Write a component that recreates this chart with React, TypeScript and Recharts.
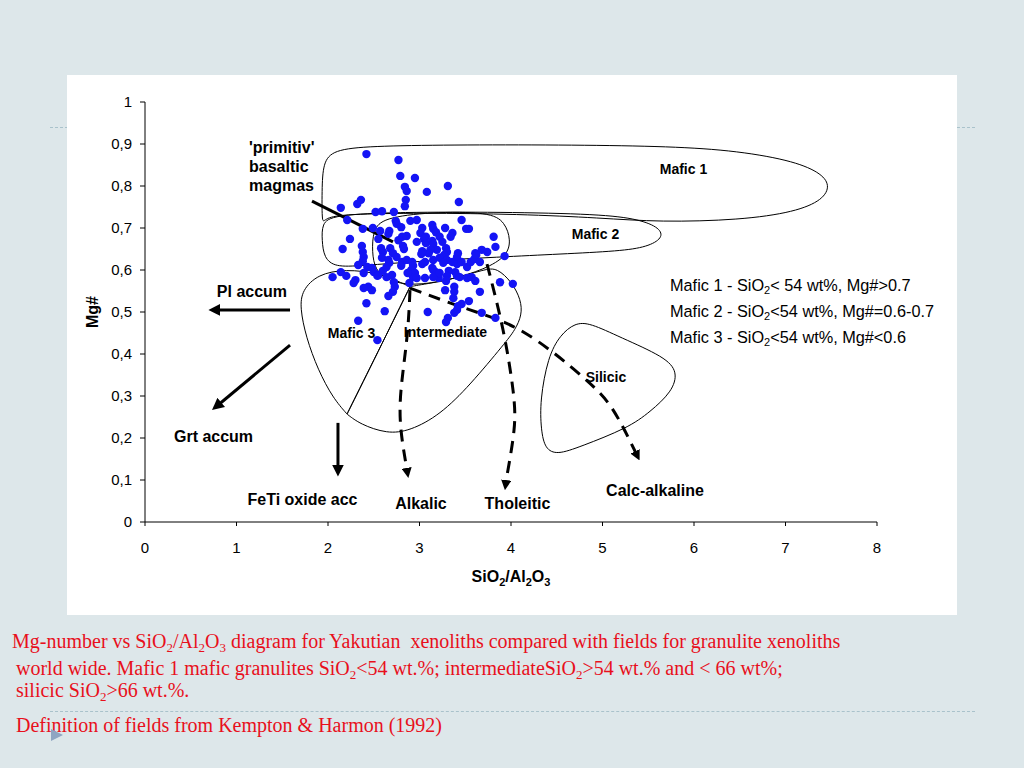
import { ComposedChart, XAxis, YAxis, Scatter, Line, ReferenceDot } from 'recharts'

type Pt = [number, number]

const xTicks = [0, 1, 2, 3, 4, 5, 6, 7, 8]
const yTicks = [0, 0.1, 0.2, 0.3, 0.4, 0.5, 0.6, 0.7, 0.8, 0.9, 1]

// SiO2/Al2O3 vs Mg# for the Yakutian xenoliths
const yakutianXenoliths: Pt[] = [
  [2.42, 0.876], [2.77, 0.862], [2.79, 0.824], [2.95, 0.819], [2.84, 0.798], [2.86, 0.788], [3.08, 0.786],
  [3.31, 0.8], [3.43, 0.762], [2.85, 0.767], [2.84, 0.752], [2.36, 0.767], [2.32, 0.757], [2.14, 0.748],
  [2.52, 0.738], [2.59, 0.74], [2.72, 0.738], [2.21, 0.719], [2.38, 0.698], [2.49, 0.7], [2.67, 0.693],
  [2.66, 0.686], [2.74, 0.717], [2.75, 0.71], [2.8, 0.702], [2.9, 0.717], [2.97, 0.719], [3.03, 0.7],
  [3.14, 0.707], [3.15, 0.698], [3.18, 0.69], [3.28, 0.7], [3.36, 0.688], [3.34, 0.679], [3.46, 0.719],
  [3.51, 0.698], [3.54, 0.698], [3.81, 0.679], [3.01, 0.688], [3.22, 0.679], [2.24, 0.674], [2.57, 0.693],
  [2.55, 0.674], [2.81, 0.679], [2.86, 0.681], [3.07, 0.679], [2.16, 0.65], [2.37, 0.657], [2.38, 0.643],
  [2.39, 0.631], [2.58, 0.652], [2.6, 0.643], [2.68, 0.652], [2.71, 0.64], [2.77, 0.671], [2.97, 0.667],
  [3.05, 0.674], [3.07, 0.664], [3.14, 0.669], [3.15, 0.662], [3.25, 0.667], [3.29, 0.652], [3.3, 0.643],
  [3.19, 0.648], [3.12, 0.648], [3.1, 0.64], [3.03, 0.645], [3.02, 0.638], [2.82, 0.657], [2.83, 0.65],
  [2.75, 0.631], [2.59, 0.629], [2.66, 0.624], [3.27, 0.636], [3.42, 0.64], [3.41, 0.631], [3.61, 0.64],
  [3.68, 0.648], [3.74, 0.643], [3.83, 0.655], [3.93, 0.633], [3.15, 0.624], [3.22, 0.629], [3.3, 0.624],
  [2.38, 0.621], [2.67, 0.617], [2.33, 0.612], [2.43, 0.607], [2.48, 0.605], [2.5, 0.595], [2.39, 0.593],
  [2.2, 0.586], [2.14, 0.595], [2.05, 0.583], [2.3, 0.576], [2.55, 0.588], [2.6, 0.598], [2.64, 0.607],
  [2.81, 0.619], [2.8, 0.61], [2.86, 0.624], [2.92, 0.619], [2.93, 0.61], [2.91, 0.6], [2.95, 0.593],
  [2.93, 0.583], [2.97, 0.581], [3.03, 0.614], [3.06, 0.619], [3.15, 0.6], [3.18, 0.595], [3.26, 0.617],
  [3.36, 0.619], [3.41, 0.614], [3.46, 0.619], [3.52, 0.607], [3.39, 0.595], [3.41, 0.586], [3.32, 0.598],
  [3.3, 0.586], [3.21, 0.581], [3.29, 0.574], [3.56, 0.619], [3.6, 0.626], [3.62, 0.636], [3.66, 0.619],
  [3.14, 0.605], [3.06, 0.581], [3.15, 0.583], [3.22, 0.593], [3.44, 0.583], [3.52, 0.581], [3.57, 0.583],
  [3.61, 0.574], [2.54, 0.586], [2.64, 0.583], [2.7, 0.588], [2.87, 0.593], [2.28, 0.569], [2.72, 0.571],
  [2.73, 0.56], [2.71, 0.548], [2.44, 0.56], [2.48, 0.552], [2.89, 0.569], [2.66, 0.538], [3.88, 0.571],
  [4.02, 0.567], [3.38, 0.56], [3.38, 0.548], [3.28, 0.552], [3.37, 0.533], [3.66, 0.548], [2.39, 0.557],
  [2.42, 0.521], [2.62, 0.502], [2.33, 0.479], [2.54, 0.433], [3.09, 0.5], [3.54, 0.526], [3.46, 0.519],
  [3.42, 0.514], [3.41, 0.505], [3.38, 0.498], [3.31, 0.486], [3.29, 0.476], [3.68, 0.498], [3.83, 0.486],
]

// field outlines (Kempton & Harmon 1992)
const mafic1Field: Pt[] = [
  [1.934, 0.707], [1.934, 0.79], [1.945, 0.855], [2.055, 0.886], [2.459, 0.895], [3.333, 0.898],
  [4.536, 0.898], [5.628, 0.895], [6.393, 0.886], [7.049, 0.862], [7.377, 0.833], [7.49, 0.802],
  [7.41, 0.767], [7.104, 0.738], [6.503, 0.719], [5.628, 0.714], [4.973, 0.724], [4.098, 0.733],
  [3.005, 0.736], [2.186, 0.733], [1.967, 0.724],
]
const mafic2Field: Pt[] = [
  [1.934, 0.671], [1.934, 0.71], [2.044, 0.731], [2.787, 0.738], [3.88, 0.738], [4.973, 0.733],
  [5.4, 0.721], [5.63, 0.7], [5.66, 0.676], [5.49, 0.655], [5.191, 0.645], [4.536, 0.638],
  [3.88, 0.631], [3.005, 0.621], [2.35, 0.61], [2.077, 0.607], [1.956, 0.629],
]
const primitiveField: Pt[] = [
  [2.481, 0.643], [2.492, 0.695], [2.601, 0.724], [3.115, 0.738], [3.77, 0.738], [3.934, 0.714],
  [4.0, 0.671], [3.956, 0.633], [3.716, 0.602], [3.333, 0.576], [2.929, 0.562], [2.656, 0.574], [2.514, 0.6],
]
const mafic3Field: Pt[] = [
  [2.896, 0.56], [2.896, 0.56], [2.896, 0.56], [2.568, 0.593], [2.186, 0.602], [1.891, 0.59],
  [1.716, 0.552], [1.694, 0.51], [1.76, 0.44], [1.891, 0.362], [2.055, 0.295],
  [2.208, 0.257], [2.208, 0.257], [2.208, 0.257], [2.546, 0.405],
]
const intermediateField: Pt[] = [
  [2.896, 0.56], [2.896, 0.56], [2.896, 0.56], [2.546, 0.405], [2.208, 0.257], [2.208, 0.257],
  [2.208, 0.257], [2.35, 0.233], [2.645, 0.21], [2.896, 0.217], [3.224, 0.255], [3.552, 0.326],
  [3.934, 0.426], [4.044, 0.457], [4.12, 0.493], [4.109, 0.529], [4.011, 0.571], [3.847, 0.605],
  [3.716, 0.602], [3.333, 0.576], [2.929, 0.562],
]
const silicicField: Pt[] = [
  [4.404, 0.393], [4.536, 0.445], [4.699, 0.474], [4.863, 0.474], [5.191, 0.44], [5.683, 0.393],
  [5.825, 0.357], [5.76, 0.31], [5.519, 0.262], [5.279, 0.224], [4.754, 0.179], [4.503, 0.16],
  [4.372, 0.174], [4.328, 0.219], [4.317, 0.29],
]

// differentiation trends (dashed) and accumulation vectors (solid)
const alkalicTrend: Pt[] = [[2.896, 0.552], [2.863, 0.44], [2.798, 0.314], [2.798, 0.219], [2.863, 0.124]]
const tholeiiticTrend: Pt[] = [[3.738, 0.614], [3.913, 0.457], [4.022, 0.314], [4.033, 0.219], [3.967, 0.124], [3.945, 0.095]]
const calcAlkalineTrend: Pt[] = [[2.896, 0.557], [3.552, 0.505], [4.153, 0.45], [4.787, 0.345], [5.115, 0.267], [5.366, 0.164]]
const plAccumVector: Pt[] = [[1.585, 0.505], [0.798, 0.505]]
const grtAccumVector: Pt[] = [[1.585, 0.421], [0.813, 0.281]]
const feTiVector: Pt[] = [[2.109, 0.236], [2.109, 0.131]]
const primitivePointer: Pt[] = [[1.825, 0.764], [2.71, 0.667]]

const fields = [mafic1Field, mafic2Field, primitiveField, mafic3Field, intermediateField, silicicField]
const trends = [alkalicTrend, tholeiiticTrend, calcAlkalineTrend]
const vectors = [plAccumVector, grtAccumVector, feTiVector]

const annotations = [
  { text: "'primitiv'", x: 1.137, y: 0.879, size: 16, anchor: 'start' },
  { text: 'basaltic', x: 1.137, y: 0.833, size: 16, anchor: 'start' },
  { text: 'magmas', x: 1.137, y: 0.788, size: 16, anchor: 'start' },
  { text: 'Mafic 1', x: 5.885, y: 0.829, size: 14, anchor: 'middle' },
  { text: 'Mafic 2', x: 4.923, y: 0.674, size: 14, anchor: 'middle' },
  { text: 'Mafic 3', x: 2.257, y: 0.438, size: 14, anchor: 'middle' },
  { text: 'Intermediate', x: 3.284, y: 0.44, size: 14, anchor: 'middle' },
  { text: 'Silicic', x: 5.038, y: 0.333, size: 14, anchor: 'middle' },
  { text: 'Pl accum', x: 1.169, y: 0.536, size: 16, anchor: 'middle' },
  { text: 'Grt accum', x: 0.749, y: 0.19, size: 16, anchor: 'middle' },
  { text: 'FeTi oxide acc', x: 1.721, y: 0.04, size: 16, anchor: 'middle' },
  { text: 'Alkalic', x: 3.016, y: 0.031, size: 16, anchor: 'middle' },
  { text: 'Tholeitic', x: 4.071, y: 0.031, size: 16, anchor: 'middle' },
  { text: 'Calc-alkaline', x: 5.574, y: 0.062, size: 16, anchor: 'middle' },
]

const fieldDefinitions = [
  { name: 'Mafic 1', rule: '< 54 wt%, Mg#>0.7' },
  { name: 'Mafic 2', rule: '<54 wt%, Mg#=0.6-0.7' },
  { name: 'Mafic 3', rule: '<54 wt%, Mg#<0.6' },
]

const sans = '"Liberation Sans", Arial, sans-serif'
const serif = '"Liberation Serif", "Times New Roman", serif'
const red = '#e8101c'

const toRows = (pts: Pt[]) => pts.map(([x, y]) => ({ x, y }))
const comma = (v: number) => String(v).replace('.', ',')

const Sub = ({ children, size = 11, drop = 3 }: { children: string; size?: number; drop?: number }) => (
  <span style={{ fontSize: size, lineHeight: 1, position: 'relative', top: drop }}>{children}</span>
)

export default function App() {
  return (
    <div style={{ position: 'absolute', left: 0, top: 0, width: 1024, height: 768, background: '#dde7ea', overflow: 'hidden' }}>
      <svg width={0} height={0} style={{ position: 'absolute' }}>
        <defs>
          <marker id="head" viewBox="0 0 10 10" refX={2} refY={5} markerWidth={4} markerHeight={4} orient="auto">
            <path d="M0,0 L10,5 L0,10 z" fill="#000" />
          </marker>
          <marker id="headSmall" viewBox="0 0 10 10" refX={2} refY={5} markerWidth={3.4} markerHeight={3.4} orient="auto">
            <path d="M0,0 L10,5 L0,10 z" fill="#000" />
          </marker>
        </defs>
      </svg>

      <div style={{ position: 'absolute', left: 50, top: 127, width: 925, borderTop: '1px dashed #a9c2cb' }} />

      <div style={{ position: 'absolute', left: 67, top: 75, width: 890, height: 540, background: '#fff' }}>
        <ComposedChart width={890} height={540} margin={{ top: 27, right: 80, left: 8, bottom: 8 }}>
          <XAxis
            type="number"
            dataKey="x"
            domain={[0, 8]}
            ticks={xTicks}
            height={85}
            tickSize={4}
            tickMargin={16}
            stroke="#000"
            tick={{ fontSize: 15, fontFamily: sans, fill: '#000' }}
            label={{
              content: ({ viewBox }: any) => {
                const cx = viewBox.x + viewBox.width / 2
                const by = viewBox.y + 60
                return (
                  <text x={cx} y={by} textAnchor="middle" fontFamily={sans} fontWeight="bold" fontSize={16} fill="#000">
                    <tspan>SiO</tspan>
                    <tspan fontSize={11} dy={4}>2</tspan>
                    <tspan dy={-4}>/Al</tspan>
                    <tspan fontSize={11} dy={4}>2</tspan>
                    <tspan dy={-4}>O</tspan>
                    <tspan fontSize={11} dy={4}>3</tspan>
                  </text>
                )
              },
            }}
          />
          <YAxis
            type="number"
            dataKey="y"
            domain={[0, 1]}
            ticks={yTicks}
            width={70}
            tickSize={5}
            tickMargin={8}
            stroke="#000"
            tickFormatter={comma}
            tick={{ fontSize: 15, fontFamily: sans, fill: '#000' }}
            label={{
              content: ({ viewBox }: any) => {
                const cx = viewBox.x + 17
                const cy = viewBox.y + viewBox.height / 2
                return (
                  <text x={cx} y={cy} dy="0.35em" textAnchor="middle" transform={`rotate(-90 ${cx} ${cy})`}
                    fontFamily={sans} fontWeight="bold" fontSize={16} fill="#000">
                    Mg#
                  </text>
                )
              },
            }}
          />

          {fields.map((f, i) => (
            <Line key={`field${i}`} data={toRows(f)} dataKey="y" type="basisClosed" stroke="#000" strokeWidth={1}
              dot={false} activeDot={false} isAnimationActive={false} />
          ))}

          <Scatter data={toRows(yakutianXenoliths)} fill="#1414f5" isAnimationActive={false}
            shape={(p: any) => <circle cx={p.cx} cy={p.cy} r={4.2} fill="#1414f5" />} />

          {trends.map((t, i) => (
            <Line key={`trend${i}`} data={toRows(t)} dataKey="y" type="natural" stroke="#000" strokeWidth={3}
              strokeDasharray="12 8" markerEnd="url(#headSmall)" dot={false} activeDot={false} isAnimationActive={false} />
          ))}
          {vectors.map((v, i) => (
            <Line key={`vec${i}`} data={toRows(v)} dataKey="y" type="linear" stroke="#000" strokeWidth={3}
              markerEnd="url(#head)" dot={false} activeDot={false} isAnimationActive={false} />
          ))}
          <Line data={toRows(primitivePointer)} dataKey="y" type="linear" stroke="#000" strokeWidth={3}
            dot={false} activeDot={false} isAnimationActive={false} />

          {annotations.map((a) => (
            <ReferenceDot key={a.text} x={a.x} y={a.y} r={0} fill="none" stroke="none" ifOverflow="visible"
              label={{
                content: ({ viewBox }: any) => (
                  <text x={viewBox.x} y={viewBox.y} textAnchor={a.anchor} fontFamily={sans} fontWeight="bold"
                    fontSize={a.size} fill="#000">
                    {a.text}
                  </text>
                ),
              }} />
          ))}
        </ComposedChart>

        <div style={{ position: 'absolute', left: 603, top: 197, fontFamily: sans, fontSize: 16.3, lineHeight: '26px', color: '#000', whiteSpace: 'pre' }}>
          {fieldDefinitions.map((d) => (
            <div key={d.name} style={{ height: 26 }}>
              {d.name} - SiO<Sub>2</Sub>{d.rule}
            </div>
          ))}
        </div>
      </div>

      <div style={{ fontFamily: serif, fontSize: 20, lineHeight: '20px', color: red, whiteSpace: 'pre' }}>
        <div style={{ position: 'absolute', left: 12, top: 631 }}>
          Mg-number vs SiO<Sub size={13} drop={4}>2</Sub>/Al<Sub size={13} drop={4}>2</Sub>O<Sub size={13} drop={4}>3</Sub> diagram for Yakutian  xenoliths compared with fields for granulite xenoliths
        </div>
        <div style={{ position: 'absolute', left: 16, top: 658 }}>
          world wide. Mafic 1 mafic granulites SiO<Sub size={13} drop={4}>2</Sub>{'<54 wt.%; intermediateSiO'}<Sub size={13} drop={4}>2</Sub>{'>54 wt.% and < 66 wt%;'}
        </div>
        <div style={{ position: 'absolute', left: 16, top: 680 }}>
          silicic SiO<Sub size={13} drop={4}>2</Sub>{'>66 wt.%.'}
        </div>
        <div style={{ position: 'absolute', left: 16, top: 715 }}>
          Definition of fields from Kempton &amp; Harmon (1992)
        </div>
      </div>

      <div style={{ position: 'absolute', left: 50, top: 711, width: 925, borderTop: '1px dashed #a9c2cb' }} />
      <div style={{ position: 'absolute', left: 51, top: 729, width: 0, height: 0, borderLeft: '12px solid #8fa5c2', borderTop: '6px solid transparent', borderBottom: '6px solid transparent' }} />
    </div>
  )
}
